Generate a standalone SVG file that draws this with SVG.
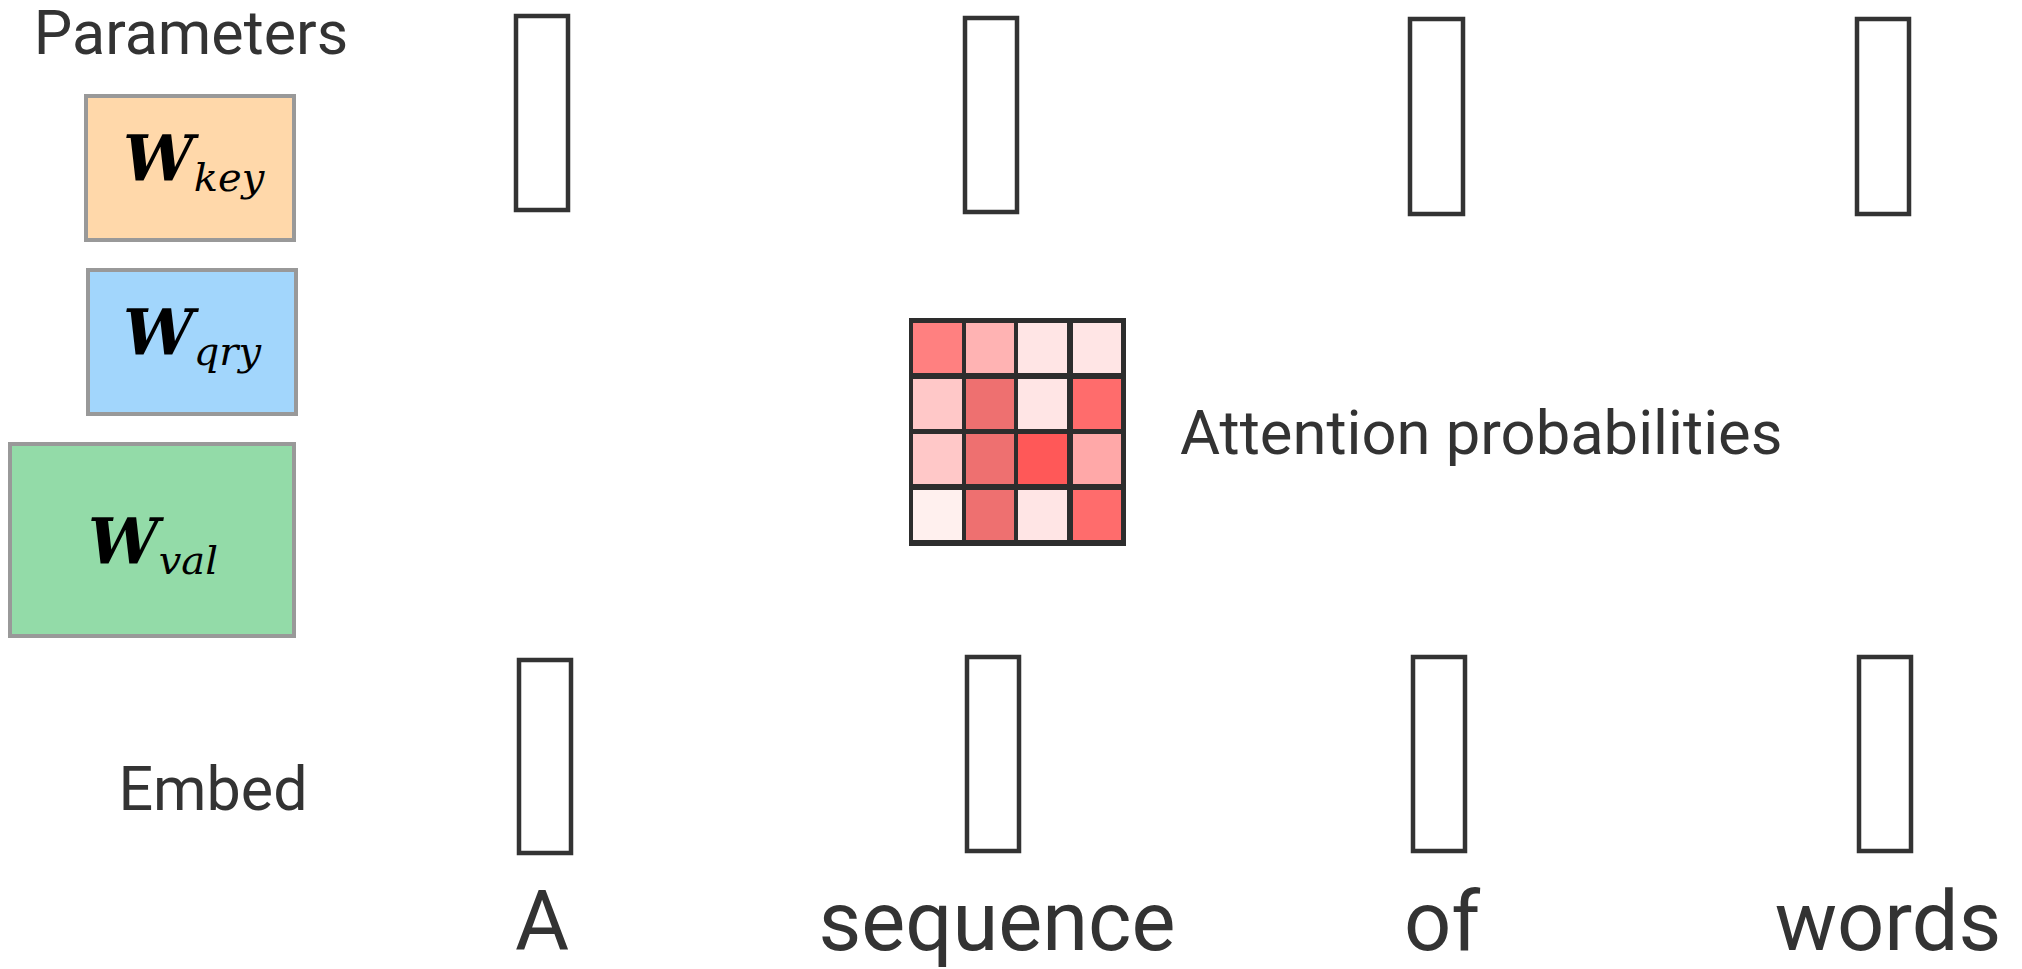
<svg xmlns="http://www.w3.org/2000/svg" width="2022" height="969" viewBox="0 0 2022 969">
<style>
.lbl{font-family:Roboto,"Liberation Sans",sans-serif;fill:#333;}
.vec{fill:#fff;stroke:#333;stroke-width:4.5;}
.par{stroke:#999;stroke-width:4;}
.wm{font-family:"DejaVu Serif",serif;font-weight:bold;font-style:italic;fill:#000;font-size:63px;}
.ws{font-family:"DejaVu Serif",serif;font-style:italic;font-weight:normal;fill:#000;font-size:40px;}
</style>
<rect width="2022" height="969" fill="#fff"/>
<text class="lbl" x="191" y="54" font-size="61" text-anchor="middle">Parameters</text>
<g id="wkey">
<rect class="par" x="86" y="96" width="208" height="144" fill="#FFD8AA"/>
<text x="123" y="181"><tspan class="wm">W</tspan><tspan class="ws" dy="10">key</tspan></text>
</g>
<g id="wqry">
<rect class="par" x="88" y="270" width="208" height="144" fill="#A2D6FC"/>
<text x="123" y="355"><tspan class="wm">W</tspan><tspan class="ws" dy="10">qry</tspan></text>
</g>
<g id="wval">
<rect class="par" x="10" y="444" width="284" height="192" fill="#93DBA8"/>
<text x="88" y="564"><tspan class="wm">W</tspan><tspan class="ws" dy="10">val</tspan></text>
</g>
<g id="top-vectors">
<rect class="vec" x="516" y="16" width="52" height="194"/>
<rect class="vec" x="965" y="18" width="52" height="194"/>
<rect class="vec" x="1410" y="19" width="53" height="195"/>
<rect class="vec" x="1857" y="19" width="52" height="195"/>
</g>
<g id="attention">
<rect x="909" y="318" width="217" height="228" fill="#2d2d2d"/>
<rect x="913" y="323" width="49" height="50" fill="#FF8080"/>
<rect x="966" y="323" width="48" height="50" fill="#FFB3B3"/>
<rect x="1018" y="323" width="49" height="50" fill="#FFE5E5"/>
<rect x="1073" y="323" width="48" height="50" fill="#FFE5E5"/>
<rect x="913" y="379" width="49" height="50" fill="#FFC8C8"/>
<rect x="966" y="379" width="48" height="50" fill="#EE7070"/>
<rect x="1018" y="379" width="49" height="50" fill="#FFE5E5"/>
<rect x="1073" y="379" width="48" height="50" fill="#FF6C6C"/>
<rect x="913" y="434" width="49" height="50" fill="#FFC8C8"/>
<rect x="966" y="434" width="48" height="50" fill="#EE7070"/>
<rect x="1018" y="434" width="49" height="50" fill="#FF5858"/>
<rect x="1073" y="434" width="48" height="50" fill="#FFA8A8"/>
<rect x="913" y="490" width="49" height="50" fill="#FFF0EE"/>
<rect x="966" y="490" width="48" height="50" fill="#EE7070"/>
<rect x="1018" y="490" width="49" height="50" fill="#FFE5E5"/>
<rect x="1073" y="490" width="48" height="50" fill="#FF6C6C"/>
<text class="lbl" x="1180" y="454" font-size="61.5">Attention probabilities</text>
</g>
<text class="lbl" x="213" y="810" font-size="61" text-anchor="middle">Embed</text>
<g id="bottom-vectors">
<rect class="vec" x="519" y="660" width="52" height="193"/>
<rect class="vec" x="967" y="657" width="52" height="194"/>
<rect class="vec" x="1413" y="657" width="52" height="194"/>
<rect class="vec" x="1859" y="657" width="52" height="194"/>
</g>
<g id="words">
<text class="lbl" x="542" y="950" font-size="83" text-anchor="middle">A</text>
<text class="lbl" x="997" y="950" font-size="83" text-anchor="middle">sequence</text>
<text class="lbl" x="1442" y="950" font-size="83" text-anchor="middle">of</text>
<text class="lbl" x="1888" y="950" font-size="83" text-anchor="middle">words</text>
</g>
<g id="connectors"></g>
</svg>
